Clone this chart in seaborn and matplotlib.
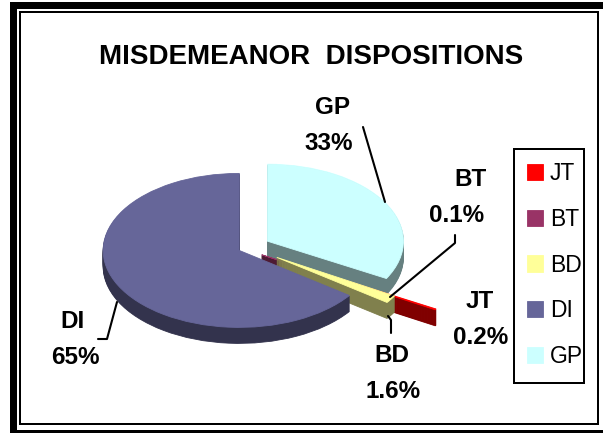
import numpy as np
import seaborn as sns
import matplotlib.pyplot as plt
from matplotlib.lines import Line2D
from matplotlib.patches import Rectangle

# chart data
categories = ['JT', 'BT', 'BD', 'DI', 'GP']
shares = [0.2, 0.1, 1.6, 65, 33]
explode_amounts = [0.6, 0.15, 0.2, 0.04, 0.2]
slice_colors = ['#FF0000', '#993366', '#FFFF99', '#666699', '#CCFFFF']

title_text = 'MISDEMEANOR  DISPOSITIONS'
label_lines = ['JT', '0.2%', 'BT', '0.1%', 'BD', '1.6%', 'DI', '65%', 'GP', '33%']
label_spots = [(480, 301), (481, 338), (470, 179), (457, 215), (392, 355),
               (393, 391), (73, 321), (75, 358), (332, 108), (329, 143)]

W, H = 603, 433
CX, CY = 244, 249      # pie centre in pixels
RX, RY = 136, 77       # squashed pie radii in pixels
DEPTH = 16             # wall height in pixels

sns.set_theme(style='white')
plt.rcParams['font.family'] = ['Liberation Sans', 'DejaVu Sans']

palette = sns.color_palette(slice_colors)
wall_colors = [tuple(np.array(c) * 0.5) for c in palette]

fig = plt.figure(figsize=(W / 100, H / 100), dpi=100, facecolor='white')
ax = fig.add_axes([0, 0, 1, 1])

# draw order back to front: GP, JT, BT, BD, DI
layer_order = [1, 2, 3, 4, 0]
# the original slid these slices a bit sideways, pixels
x_nudge = [2, 0, 10, 0, 0]

# side walls, stacked pies going down, then the top face
top_wedges = None
for step in range(DEPTH, -1, -1):
    cols = palette if step == 0 else wall_colors
    wedges, _ = ax.pie(shares, explode=explode_amounts, colors=cols, startangle=-29,
                       counterclock=False, center=(0, -step / RY), radius=1,
                       wedgeprops={'linewidth': 0.6})
    for w, col, layer, nudge in zip(wedges, cols, layer_order, x_nudge):
        w.set_edgecolor(col)
        w.set_zorder(2 + layer + (DEPTH - step) * 0.01)
        w.set_center((w.center[0] + nudge / RX, w.center[1]))
    if step == 0:
        top_wedges = wedges

ax.set_aspect('auto')
ax.set_xlim(-CX / RX, (W - CX) / RX)
ax.set_ylim((CY - H) / RY, CY / RY)
ax.axis('off')


def px(x, y):
    return x / W, 1 - y / H


def box(left, top, right, bottom, lw_px):
    x0, y0 = px(left, bottom)
    x1, y1 = px(right, top)
    fig.add_artist(Rectangle((x0, y0), x1 - x0, y1 - y0, transform=fig.transFigure,
                             fill=False, edgecolor='black', lw=lw_px * 0.72))


# title and slice labels
fig.text(*px(311, 57), title_text, fontsize=20, fontweight='bold', color='black',
         ha='center', va='center')
for txt, (x, y) in zip(label_lines, label_spots):
    fig.text(*px(x, y), txt, fontsize=17.5, fontweight='bold', color='black',
             ha='center', va='center')

# leader lines
leaders = [
    [(363, 127), (385, 202)],
    [(455, 235), (455, 243), (390, 297)],
    [(391, 333), (391, 320), (388, 316)],
    [(98, 339), (107, 339), (117, 302)],
]
for pts in leaders:
    xs, ys = zip(*[px(*p) for p in pts])
    fig.add_artist(Line2D(xs, ys, color='black', lw=1.5, zorder=20))

# double border round the figure
box(12.5, 4.5, 604.5, 432.5, 7)
box(19.5, 12, 598, 424, 2)

# legend, box drawn separately since the padding is lopsided
box(514, 149, 584, 383, 2)
leg = ax.legend(top_wedges, categories, loc='center left', bbox_to_anchor=px(527, 265),
                bbox_transform=fig.transFigure, fontsize=16.5, frameon=False,
                borderpad=0, labelspacing=0.99, handlelength=0.7, handleheight=0.7,
                handletextpad=0.3, borderaxespad=0)
leg.set_zorder(30)
for t in leg.get_texts():
    t.set_color('black')

fig.savefig('out.png', dpi=100)
